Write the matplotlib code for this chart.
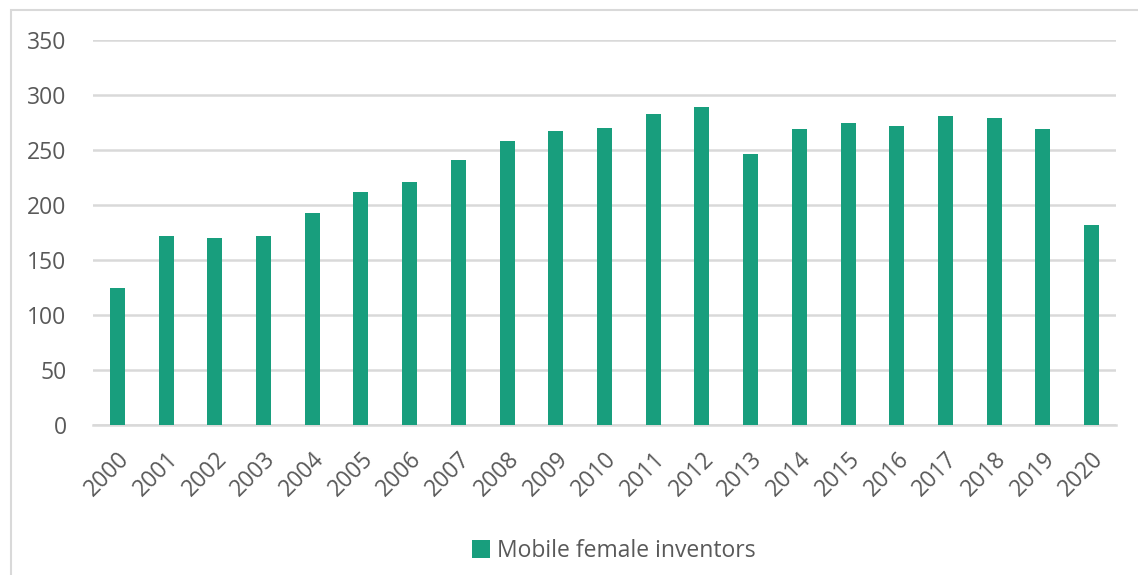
import matplotlib
matplotlib.use("Agg")
from matplotlib import pyplot as plt
from matplotlib.patches import Rectangle
import numpy as np

# data
years = ['2000', '2001', '2002', '2003', '2004', '2005', '2006', '2007', '2008', '2009', '2010',
         '2011', '2012', '2013', '2014', '2015', '2016', '2017', '2018', '2019', '2020']
mobile_female = [125, 172, 170, 172, 193, 212, 221, 241, 258, 267, 270,
                 283, 289, 246, 269, 275, 272, 281, 279, 269, 182]
y_ticks = [0, 50, 100, 150, 200, 250, 300, 350]

bar_color = '#189E7D'
text_color = '#595959'
grid_color = '#D9D9D9'

plt.rcParams['font.family'] = ['Open Sans', 'DejaVu Sans']

W, H = 1138, 575
fig = plt.figure(figsize=(W / 100, H / 100), dpi=100)

# chart frame (runs off the right/bottom edge)
fig.patches.append(Rectangle((11 / W, -0.1), 1.2, (H - 10) / H + 0.1, transform=fig.transFigure,
                             fill=False, edgecolor=grid_color, linewidth=1.5))

ax = fig.add_axes([93 / W, 150 / H, (1116 - 93) / W, 385 / H])
x = np.arange(len(years))
ax.bar(x, mobile_female, width=0.31, color=bar_color, zorder=3, label='Mobile female inventors')

ax.set_xlim(-0.5, len(years) - 0.5)
ax.set_ylim(0, 350)
ax.set_yticks(y_ticks)
ax.set_yticklabels([str(v) for v in y_ticks], fontsize=16.5, color=text_color)
ax.set_xticks(x)
ax.set_xticklabels(years, rotation=45, ha='right', rotation_mode='anchor',
                   fontsize=16.5, color=text_color)
ax.tick_params(axis='both', length=0)
ax.tick_params(axis='y', pad=19)
ax.tick_params(axis='x', pad=16)

ax.grid(axis='y', color=grid_color, linewidth=1.8, zorder=0)
for s in ['top', 'right', 'left']:
    ax.spines[s].set_visible(False)
ax.spines['bottom'].set_color(grid_color)
ax.spines['bottom'].set_linewidth(1.8)

leg = fig.legend(loc='center', bbox_to_anchor=(614 / W, 1 - 551 / H), frameon=False,
                 fontsize=16.5, handlelength=0.8, handleheight=0.8, handletextpad=0.3)
for t in leg.get_texts():
    t.set_color(text_color)

fig.savefig('out.png', dpi=100)
